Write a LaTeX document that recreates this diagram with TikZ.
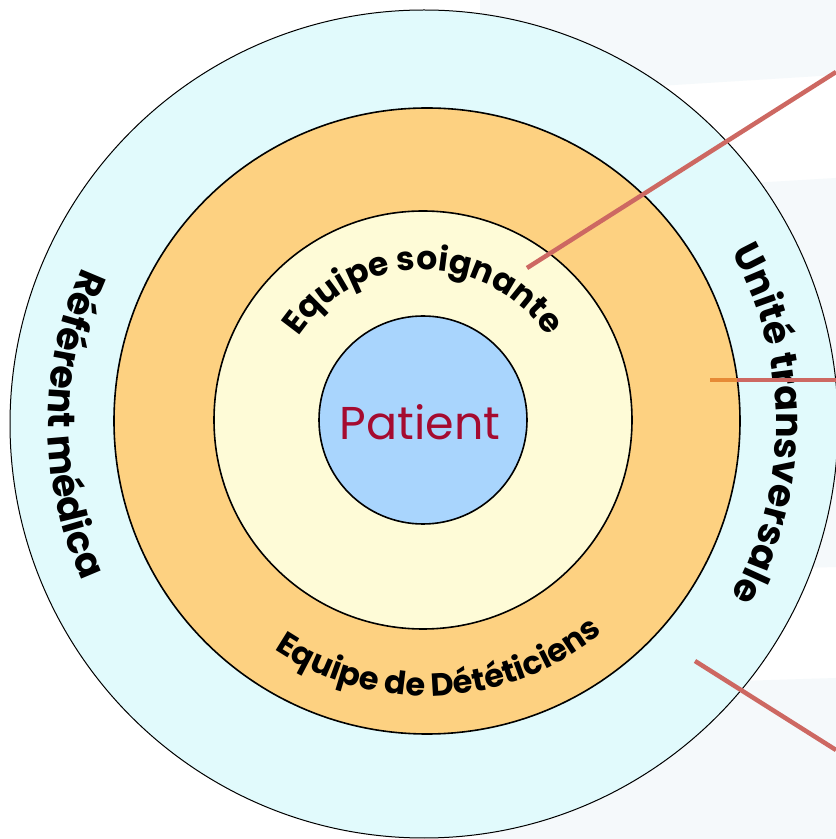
\documentclass[tikz,border=0pt]{standalone}
\usepackage{fontspec}
\setmainfont{Poppins}
\usetikzlibrary{decorations.text,calc}
\definecolor{ringouter}{HTML}{E1FAFC}
\definecolor{ringorange}{HTML}{FDD181}
\definecolor{ringyellow}{HTML}{FEFBD7}
\definecolor{ringblue}{HTML}{A9D5FD}
\definecolor{patientred}{HTML}{A50B30}
\definecolor{linkred}{HTML}{CD6862}
\definecolor{linkorange}{HTML}{E68A36}
\definecolor{faintbg}{HTML}{F5F9FB}
\tikzset{
  ring/.style={circle, draw=black, inner sep=0pt, outer sep=0pt},
  arctext/.style={decorate, decoration={text along path, text align=center, text={#1}}},
  link/.style={draw=linkred, line width=4.5pt},
}
\newcommand{\ringfont}{\bfseries\fontsize{33}{40}\selectfont}
\newcommand{\lowfont}{\bfseries\fontsize{32}{40}\selectfont}
\newcommand{\outerfont}{\bfseries\fontsize{38}{44}\selectfont}
\begin{document}
\begin{tikzpicture}[x=1pt,y=1pt]
\useasboundingbox (0,0) rectangle (836,839);
\fill[white] (0,0) rectangle (836,839);
% faint background panels
\fill[faintbg] (480,839) -- (836,839) -- (836,764) -- (480,742) -- cycle;
\fill[faintbg] (480,640) -- (836,661) -- (836,272) -- (480,262) -- cycle;
\fill[faintbg] (480,150) -- (836,161) -- (836,0) -- (480,0) -- cycle;
% centres
\coordinate (Co) at (424,415);
\coordinate (Cr) at (427,418);
\coordinate (Cy) at (423,419);
% rings
\node[ring, line width=1pt, fill=ringouter, minimum size=828pt] (outer) at (Co) {};
\node[ring, line width=1.6pt, fill=ringorange, minimum size=626pt] (orange) at (Cr) {};
\node[ring, line width=1.6pt, fill=ringyellow, minimum size=418pt] (yellow) at (Cy) {};
\node[ring, line width=1.6pt, fill=ringblue, minimum size=208pt] (blue) at (Cy) {};
\node[text=patientred, font=\fontsize{46}{50}\selectfont] (patient) at (420,417) {Patient};
% curved labels
\path[arctext={|\ringfont|Equipe soignante}] ($(Cy)+(170:150)$) arc[start angle=170, end angle=10, radius=150];
\path[arctext={|\lowfont|Equipe de Dététiciens}] ($(Cr)+(203:275)$) arc[start angle=203, end angle=343, radius=275];
\path[arctext={|\outerfont|Référent médica}] ($(Co)+(145:376)$) arc[start angle=145, end angle=215, radius=376];
\path[arctext={|\outerfont|Unité transversale}] ($(Co)+(35:352)$) arc[start angle=35, end angle=-35, radius=352];
% connectors
\coordinate (l1a) at (527,571);
\coordinate (l1b) at (836,767);
\coordinate (l2a) at (710,459);
\coordinate (l2m) at (737,459);
\coordinate (l2b) at (836,459);
\coordinate (l3a) at (695,178);
\coordinate (l3b) at (836,89);
\draw[link] (l1a) -- (l1b);
\draw[draw=linkorange, line width=4.5pt] (l2a) -- (l2m);
\draw[link] (l2m) -- (l2b);
\draw[link] (l3a) -- (l3b);
\end{tikzpicture}
\end{document}
